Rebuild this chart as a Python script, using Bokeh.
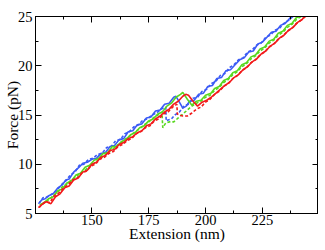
from bokeh.plotting import figure
from bokeh.models import LinearAxis, SingleIntervalTicker, Range1d
from bokeh.embed import file_html
from bokeh.resources import INLINE

# ---- data ----
bx_s = [126.5,128,129.5,131,133,135,137,138.5,140,142,144.4,146,148,150,152,154,156,158,160,162,164,166,168,170,172,174,176,178,180,182,184,186,187,188.5,190,191.5,193,195,197,199,201,203,205,207,209,211,213,215,217,219,221,223,225,227,229,231,233,235,237,238]
by_s = [6.0,6.4,6.5,6.8,7.0,7.6,7.9,8.4,8.5,9.2,9.7,10.1,10.2,10.5,10.6,11.1,11.2,11.8,11.9,12.5,12.6,13.3,13.4,14.0,14.1,14.7,14.8,15.4,15.5,16.1,16.2,16.8,16.9,16.3,15.7,15.9,16.4,16.5,17.1,17.2,17.9,18.0,18.7,18.8,19.5,19.6,20.1,20.6,20.8,21.4,21.5,22.2,22.4,22.9,23.4,23.5,24.1,24.3,24.8,25.0]

bx_d = [238.5,236.5,234.5,232.5,230.5,228.5,226.5,224.5,222.5,220.5,218.5,216.5,214.5,212.5,210.5,208.5,206.5,204.5,202.5,200.5,198.5,196.5,194.5,192.5,190.5,188.5,186.5,185,183.5,182.7,182.6,182.5,180.5,178.5,176.5,174.5,172.5,170.5,168.5,166.5,164.5,162.5,160.5,158.5,156.5,154.5,152.5,150.5,148.5,146.5,144.5,142.5,140.5,138.5,136.5,134.5,132.5,130.5,128.5,127]
by_d = [25.0,24.6,24.3,23.8,23.6,23.1,22.9,22.3,22.1,21.6,21.4,20.8,20.6,20.1,19.8,19.2,19.0,18.4,18.2,17.6,17.4,16.8,16.7,16.1,15.9,15.3,15.0,14.6,14.5,14.4,15.1,15.8,15.6,15.2,15.0,14.6,14.5,14.0,13.8,13.3,13.1,12.5,12.4,11.8,11.7,11.1,11.0,10.6,10.5,10.0,9.9,9.2,8.9,8.3,7.9,7.3,7.0,6.7,6.6,6.1]

gx_s = [127,129,131,133,135,137,139,141,143,145,147,149,151,153,155,157,159,161,163,165,167,169,171,173,175,177,179,181,183,185,187,189,190,192,194,196,198,200,202.4,204,206,208,210,212,214,216,218,220,222,224,226,228,230,232,234,236,238,240,241.5]
gy_s = [5.9,6.1,6.5,6.7,7.3,7.5,8.1,8.3,8.9,9.1,9.7,9.9,10.4,10.6,11.1,11.2,11.8,11.8,12.3,12.5,13.0,13.2,13.7,13.9,14.4,14.6,15.1,15.3,15.9,16.2,16.8,17.1,17.3,16.6,16.0,16.4,16.5,17.0,17.2,17.7,17.9,18.5,18.7,19.3,19.5,20.1,20.3,20.9,21.1,21.7,21.9,22.5,22.7,23.3,23.5,24.1,24.3,24.9,25.0]

gx_d = [242,240,238,236,234,232,230,228,226,224,222,220,218,216,214,212,210,208,206,204,202,200,198,196,194,192,190,188,186,184,182.5,181.2,181,180.8,179,177,175,173,171,169,167,165,163,161,159,157,155,153,151,149,147,145,143,141,139,137,135,133,131,129,127.5]
gy_d = [25.0,24.7,24.2,23.9,23.4,23.1,22.6,22.3,21.8,21.5,21.0,20.7,20.2,19.9,19.4,19.1,18.6,18.3,17.8,17.5,17.0,16.8,16.4,16.2,15.9,15.5,15.1,14.7,14.3,14.3,14.2,13.7,14.5,15.3,15.0,14.7,14.3,14.0,13.6,13.3,12.9,12.6,12.2,11.9,11.5,11.2,10.8,10.5,10.1,9.8,9.4,9.1,8.7,8.4,8.0,7.7,7.2,6.8,6.4,6.1,5.8]

rx_s = [126.5,128,130,132,134,136,138,140,142,144,146,148,150,152,154,156,158,160,162,164,166,168,170,172,174,176,178,180,182,184,186,188,190,191.3,192.5,194.5,196.5,198.5,200.5,202.5,204.5,206.5,208.5,210.5,212.5,214.5,216.5,218.5,220.5,222.5,224.5,226.5,228.5,230.5,232.5,234.5,236.5,238.5,240.5,242.5,243.5]
ry_s = [5.6,5.9,6.2,6.0,6.7,7.0,7.6,7.8,8.4,8.6,9.2,9.4,10.0,10.2,10.7,10.9,11.4,11.5,12.0,12.2,12.6,12.8,13.2,13.4,13.9,14.1,14.6,14.9,15.3,15.6,16.1,16.4,16.9,17.1,17.0,16.4,15.9,16.3,16.5,16.8,17.2,17.6,18.0,18.3,18.8,19.1,19.6,19.9,20.4,20.7,21.2,21.5,22.0,22.3,22.8,23.1,23.6,23.9,24.4,24.7,25.0]

rx_d = [244,242,240,238,236,234,232,230,228,226,224,222,220,218,216,214,212,210,208,206,204,202,200,198,196,194,192,190,188.5,187.6,187.5,187.4,185.5,183.5,181.5,179.5,177.5,175.5,173.5,171.5,169.5,167.5,165.5,163.5,161.5,159.5,157.5,155.5,153.5,151.5,149.5,147.5,145.5,143.5,141.5,139.5,137.5,135.5,133.5,131.5,129.5,127.5,126.5]
ry_d = [25.0,24.6,24.3,23.8,23.5,23.0,22.7,22.2,21.9,21.4,21.1,20.6,20.3,19.8,19.5,19.0,18.7,18.2,17.9,17.4,17.1,16.6,16.3,15.8,15.6,15.2,14.9,14.9,15.0,15.1,15.6,16.1,15.8,15.3,15.1,14.6,14.4,13.9,13.7,13.3,13.1,12.6,12.4,12.0,11.8,11.3,11.1,10.7,10.5,10.0,9.8,9.3,9.1,8.6,8.4,7.9,7.6,7.1,6.8,6.1,6.2,5.8,5.5]

x_label = "Extension (nm)"
y_label = "Force (pN)"

BLUE = "#3b5bf5"
GREEN = "#57d81f"
RED = "#f21a1a"
FONT = "Liberation Serif"

p = figure(width=318, height=250, x_range=Range1d(125.2, 249.7), y_range=Range1d(5, 25),
           output_backend="svg", toolbar_location=None,
           min_border_left=0, min_border_top=16, min_border_right=0, min_border_bottom=37)
p.xaxis.visible = False
p.yaxis.visible = False
p.grid.visible = False
p.outline_line_color = "black"
p.outline_line_width = 1
p.background_fill_color = "white"
p.border_fill_color = "white"

def style_axis(ax, labels=True):
    ax.axis_line_color = "black"
    ax.major_tick_line_color = "black"
    ax.minor_tick_line_color = "black"
    ax.major_tick_in = 6
    ax.major_tick_out = 0
    ax.minor_tick_in = 3
    ax.minor_tick_out = 0
    if labels:
        ax.major_label_text_font = FONT
        ax.major_label_text_font_size = "14.5px"
        ax.major_label_text_color = "black"
        ax.axis_label_text_font = FONT
        ax.axis_label_text_font_size = "15.5px"
        ax.axis_label_text_font_style = "normal"
        ax.axis_label_text_color = "black"
    else:
        ax.major_label_text_font_size = "1px"
        ax.major_label_text_color = None
        ax.major_label_standoff = 0

xt = SingleIntervalTicker(interval=25, num_minor_ticks=2)
yt = SingleIntervalTicker(interval=5, num_minor_ticks=2)

bottom = LinearAxis(ticker=xt, axis_label=x_label)
style_axis(bottom)
bottom.major_label_standoff = 1
bottom.axis_label_standoff = -3
p.add_layout(bottom, "below")
top = LinearAxis(ticker=xt)
style_axis(top, labels=False)
p.add_layout(top, "above")
left = LinearAxis(ticker=yt, axis_label=y_label)
style_axis(left)
left.major_label_standoff = 3
left.axis_label_standoff = -6
p.add_layout(left, "left")
right = LinearAxis(ticker=yt)
style_axis(right, labels=False)
p.add_layout(right, "right")

LW = 1.6
DASH = "3 2"
p.line(bx_d, by_d, line_color=BLUE, line_width=LW, line_dash=DASH)
p.line(bx_s, by_s, line_color=BLUE, line_width=LW)
p.line(gx_d, gy_d, line_color=GREEN, line_width=LW, line_dash=DASH)
p.line(gx_s, gy_s, line_color=GREEN, line_width=LW)
p.line(rx_d, ry_d, line_color=RED, line_width=LW, line_dash=DASH)
p.line(rx_s, ry_s, line_color=RED, line_width=LW)

open("out.html", "w").write(file_html(p, INLINE))
